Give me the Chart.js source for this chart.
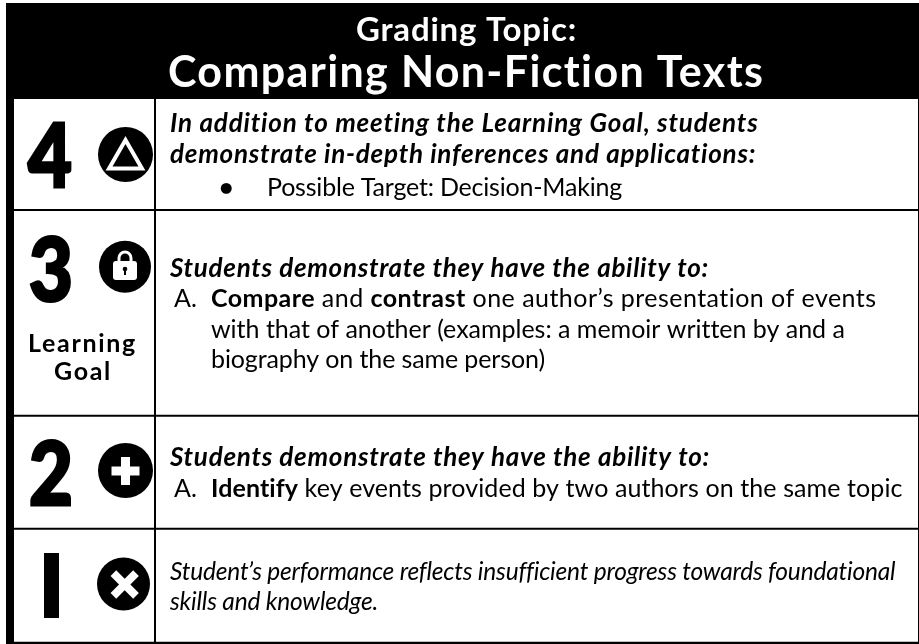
<!DOCTYPE html>
<html>
<head>
<meta charset="utf-8">
<title>Grading Topic</title>
<script src="https://cdn.jsdelivr.net/npm/chart.js@4/dist/chart.umd.min.js"></script>
<style>
    html, body { margin: 0; padding: 0; background: #fff; }
    canvas { display: block; }
</style>
</head>
<body>
<canvas id="scale-card" width="919" height="644"></canvas>
<script>
const scores = ["4", "3", "2", "1"];
const headerLines = ["Grading Topic:", "Comparing Non-Fiction Texts"];
const goalLines = ["Learning", "Goal"];
const lines4 = ["In addition to meeting the Learning Goal, students", "demonstrate in-depth inferences and applications:"];
const target4 = ["•", "Possible Target: Decision-Making"];
const abilityLine = "Students demonstrate they have the ability to:";
const listMark = "A.";
const lines3 = ["Compare and contrast one author’s presentation of events", "with that of another (examples: a memoir written by and a", "biography on the same person)"];
const line2 = "Identify key events provided by two authors on the same topic";
const lines1 = ["Student’s performance reflects insufficient progress towards foundational", "skills and knowledge."];
const boldWords = ["Compare", "contrast", "Identify"];

// card geometry, in page pixels
const rowRules = [210, 415.7, 528.7];
const iconX = [125.5, 125, 125.5, 123.5];
const iconY = [154.5, 266.7, 470.5, 584];
const iconR = [27.5, 26, 27.5, 26.5];
const glyphY = [159, 267, 471, 584.5];
const glyphX = [125.5, 125, 125.5, 124.7];
const glyphR = [19, 20, 14, 16];
const glyphBorder = [4, 0, 9, 8];
const scoreX = [28, 29, 29];
const scoreBase = [187, 300.5, 504.5];

const FACE = "Lato, sans-serif";
const fontBoldItalic = "italic bold 26px " + FACE;
const fontBody = "25px " + FACE;
const fontBold = "bold 25px " + FACE;
const fontItalic = "italic 24.5px " + FACE;

function lockIcon() {
    const c = document.createElement("canvas");
    c.width = 40;
    c.height = 40;
    const g = c.getContext("2d");
    g.strokeStyle = "#fff";
    g.lineWidth = 3;
    g.beginPath();
    g.moveTo(14, 18);
    g.lineTo(14, 11);
    g.arc(20, 11, 6, Math.PI, 0);
    g.lineTo(26, 14);
    g.stroke();
    g.fillStyle = "#fff";
    g.beginPath();
    g.roundRect(8, 14, 24, 19, 3);
    g.fill();
    g.fillStyle = "#000";
    g.beginPath();
    g.arc(20, 22, 2.3, 0, Math.PI * 2);
    g.fill();
    g.fillRect(19, 23, 2, 5);
    return c;
}

function rule(x0, y0, x1, y1, width) {
    return {
        data: [{x: x0, y: y0}, {x: x1, y: y1}],
        borderColor: "#000",
        borderWidth: width,
        pointRadius: 0,
        showLine: true
    };
}

// each entry: text, left, right end (or null), baseline, font
const placed = [
    [headerLines[0], 356, 577, 41, "bold 33px " + FACE, "#fff"],
    [headerLines[1], 168, 765, 87, "bold 43px " + FACE, "#fff"],
    [lines4[0], 170, 758, 132, fontBoldItalic],
    [lines4[1], 170, 756, 163, fontBoldItalic],
    [target4[0], 219, null, 196, fontBold],
    [target4[1], 267, 622, 196, fontBody],
    [abilityLine, 170, 709, 277, fontBoldItalic],
    [listMark, 174, null, 307, fontBody],
    [lines3[0], 211, 877, 307, fontBody],
    [lines3[1], 211, 844, 337.5, fontBody],
    [lines3[2], 211, 545, 368, fontBody],
    [goalLines[0], 28, 137, 352, fontBold],
    [goalLines[1], 54, 112, 380, fontBold],
    [abilityLine, 170, 710, 466, fontBoldItalic],
    [listMark, 174, null, 497, fontBody],
    [line2, 211, 903, 497, fontBody],
    [lines1[0], 170, 894, 579.5, fontItalic],
    [lines1[1], 170, 378, 609.5, fontItalic]
];

function splitRuns(text, font) {
    if (font !== fontBody) return [[text, font]];
    const re = new RegExp("(" + boldWords.join("|") + ")");
    return text.split(re).filter(s => s).map(s => [s, boldWords.includes(s) ? fontBold : font]);
}

const cardText = {
    id: "cardText",
    afterDatasetsDraw(chart) {
        const {ctx, scales: {x, y}} = chart;
        ctx.save();
        ctx.textBaseline = "alphabetic";
        ctx.textAlign = "left";
        placed.forEach(([text, x0, x1, base, font, colour]) => {
            const runs = splitRuns(text, font);
            ctx.letterSpacing = "0px";
            let total = 0;
            let count = 0;
            runs.forEach(([s, f]) => {
                ctx.font = f;
                total += ctx.measureText(s).width;
                count += s.length;
            });
            const spacing = x1 === null ? 0 : (x1 - x0 - total) / count;
            ctx.letterSpacing = spacing + "px";
            ctx.fillStyle = colour || "#000";
            let px = x.getPixelForValue(x0);
            runs.forEach(([s, f]) => {
                ctx.font = f;
                ctx.fillText(s, px, y.getPixelForValue(base));
                px += ctx.measureText(s).width;
            });
        });
        ctx.letterSpacing = "0px";
        ctx.fillStyle = "#000";
        ctx.strokeStyle = "#000";
        // big numerals are heavier and narrower than Lato's
        ctx.font = "900 88px " + FACE;
        ctx.lineWidth = 3;
        ctx.lineJoin = "miter";
        scoreX.forEach((sx, i) => {
            ctx.save();
            ctx.translate(x.getPixelForValue(sx), y.getPixelForValue(scoreBase[i]));
            ctx.scale(0.86, 1);
            ctx.fillText(scores[i], 0, 0);
            ctx.strokeText(scores[i], 0, 0);
            ctx.restore();
        });
        // the 1 is a plain bar in this face, keep only its stem
        ctx.font = "900 200px " + FACE;
        ctx.save();
        ctx.beginPath();
        ctx.rect(x.getPixelForValue(44), y.getPixelForValue(553), 15, 65);
        ctx.clip();
        ctx.fillText(scores[3], x.getPixelForValue(-8.5), y.getPixelForValue(640));
        ctx.restore();
        ctx.restore();
    }
};

const glyphStyles = ["triangle", lockIcon(), "cross", "crossRot"];

new Chart(document.getElementById("scale-card"), {
    type: "scatter",
    data: {
        datasets: [
            {
                data: scores.map((s, i) => ({x: glyphX[i], y: glyphY[i]})),
                pointStyle: glyphStyles,
                pointRadius: glyphR,
                pointBackgroundColor: "#000",
                pointBorderColor: "#fff",
                pointBorderWidth: glyphBorder
            },
            {
                data: scores.map((s, i) => ({x: iconX[i], y: iconY[i]})),
                pointStyle: "circle",
                pointRadius: iconR,
                pointBackgroundColor: "#000",
                pointBorderWidth: 0
            },
            Object.assign(rule(6, 3, 919, 3, 0), {fill: {value: 99}, backgroundColor: "#000"}),
            rule(10, 3, 10, 644, 8),
            rule(918.5, 99, 918.5, 644, 1),
            rule(6, 643, 919, 643, 2.5),
            rule(155, 99, 155, 642, 2),
            ...rowRules.map(r => rule(14, r, 918, r, 2))
        ]
    },
    options: {
        responsive: false,
        animation: false,
        events: [],
        layout: {padding: 0, autoPadding: false},
        plugins: {
            legend: {display: false},
            tooltip: {enabled: false},
            title: {display: false}
        },
        scales: {
            x: {type: "linear", min: 0, max: 919, display: false},
            y: {type: "linear", min: 0, max: 644, reverse: true, display: false}
        }
    },
    plugins: [cardText]
});
</script>
</body>
</html>
